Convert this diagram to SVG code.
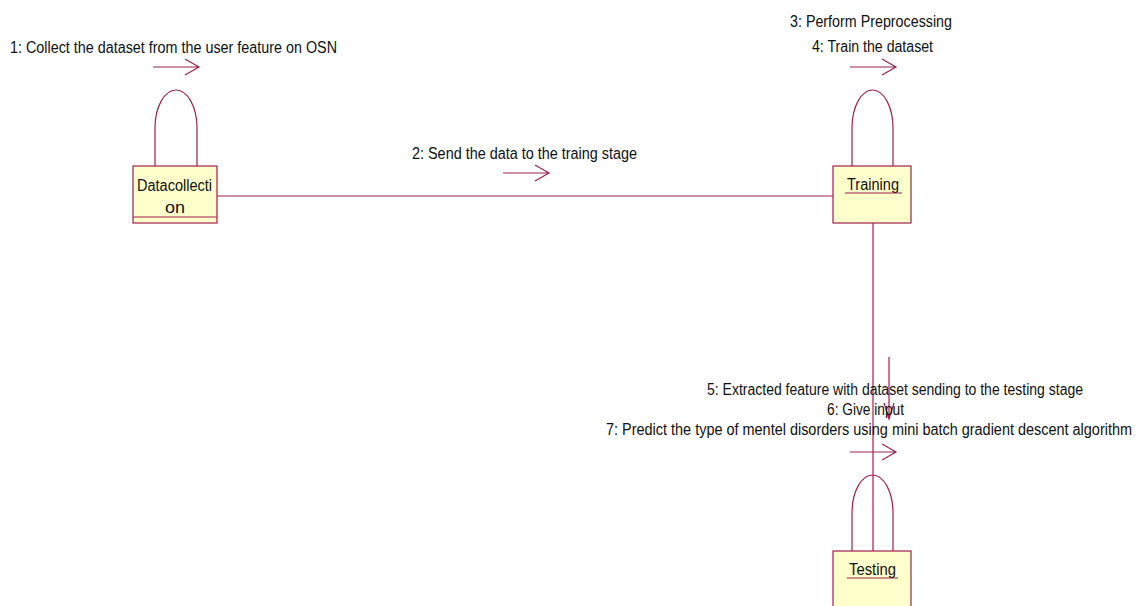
<svg xmlns="http://www.w3.org/2000/svg" width="1137" height="606" viewBox="0 0 1137 606">
<style>
.ln{fill:none;stroke:#A0214F;stroke-width:1.2}
.box{fill:#FFFFCC;stroke:#A0214F;stroke-width:1.2}
.t{font-family:"Liberation Sans",Arial,sans-serif;font-size:16px;fill:#111}
</style>
<rect width="1137" height="606" fill="#fff"/>
<g id="connectors">
<line class="ln" x1="217" y1="196" x2="833" y2="196"/>
<line class="ln" x1="873" y1="223" x2="873" y2="551"/>
<path class="ln" d="M155,166 V128 A21,38 0 0 1 197,128 V166"/>
<path class="ln" d="M852,166 V128 A20.5,38 0 0 1 893,128 V166"/>
<path class="ln" d="M852,551 V513 A20.5,38 0 0 1 893,513 V551"/>
<path class="ln" d="M153,67 H199 M185,59 L199,67 L185,75"/>
<path class="ln" d="M850,67 H896 M882,59 L896,67 L882,75"/>
<path class="ln" d="M503,173 H549 M535,165 L549,173 L535,181"/>
<path class="ln" d="M850,452 H896 M882,444 L896,452 L882,460"/>
<path class="ln" d="M889,357 V419 M884,403 L889,419 L894,403"/>
</g>
<g id="labels">
<text class="t" x="10" y="53" textLength="327" lengthAdjust="spacingAndGlyphs">1: Collect the dataset from the user feature on OSN</text>
<text class="t" x="412" y="159" textLength="225" lengthAdjust="spacingAndGlyphs">2: Send the data to the traing stage</text>
<text class="t" x="790" y="27" textLength="162" lengthAdjust="spacingAndGlyphs">3: Perform Preprocessing</text>
<text class="t" x="812" y="52" textLength="121" lengthAdjust="spacingAndGlyphs">4: Train the dataset</text>
<text class="t" x="707" y="395" textLength="376" lengthAdjust="spacingAndGlyphs">5: Extracted feature with dataset sending to the testing stage</text>
<text class="t" x="827" y="415" textLength="77" lengthAdjust="spacingAndGlyphs">6: Give input</text>
<text class="t" x="606" y="435" textLength="526" lengthAdjust="spacingAndGlyphs">7: Predict the type of mentel disorders using mini batch gradient descent algorithm</text>
</g>
<g id="Datacollection">
<rect class="box" x="133" y="166" width="84" height="57"/>
<line class="ln" x1="133" y1="217" x2="217" y2="217"/>
<text class="t" x="137" y="191" textLength="75" lengthAdjust="spacingAndGlyphs">Datacollecti</text>
<text class="t" x="165" y="213" textLength="20" lengthAdjust="spacingAndGlyphs">on</text>
</g>
<g id="Training">
<rect class="box" x="833" y="166" width="78" height="57"/>
<text class="t" x="847" y="190" textLength="52" lengthAdjust="spacingAndGlyphs">Training</text>
<line class="ln" x1="845" y1="193" x2="902" y2="193"/>
</g>
<g id="Testing">
<rect class="box" x="833" y="551" width="78" height="60"/>
<text class="t" x="849" y="575" textLength="47" lengthAdjust="spacingAndGlyphs">Testing</text>
<line class="ln" x1="847" y1="578" x2="898" y2="578"/>
</g>
</svg>
